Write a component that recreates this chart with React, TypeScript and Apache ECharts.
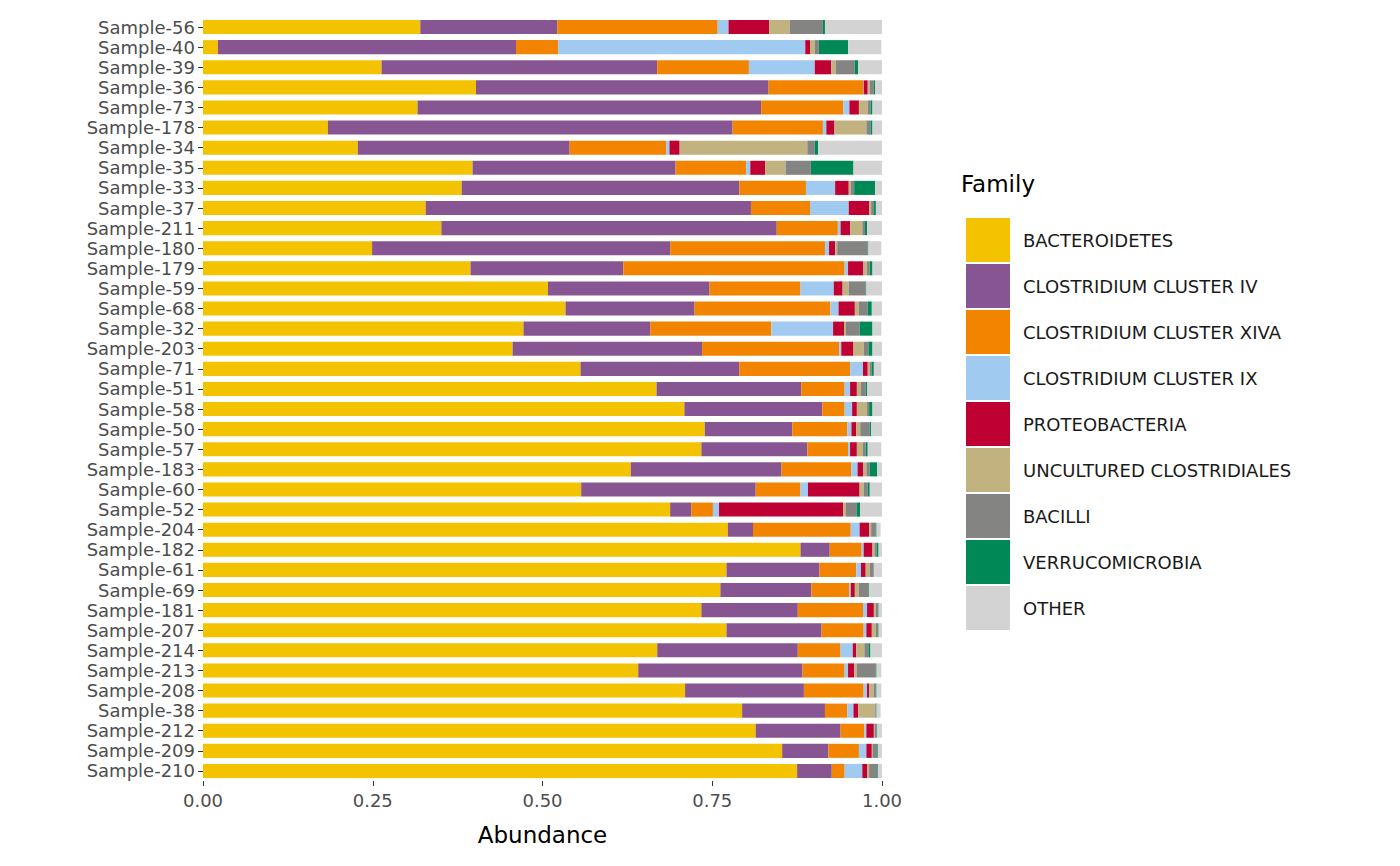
import { useEffect, useRef } from 'react';
import * as echarts from 'echarts';

const samples = ['Sample-56', 'Sample-40', 'Sample-39', 'Sample-36', 'Sample-73', 'Sample-178', 'Sample-34', 'Sample-35', 'Sample-33', 'Sample-37', 'Sample-211', 'Sample-180', 'Sample-179', 'Sample-59', 'Sample-68', 'Sample-32', 'Sample-203', 'Sample-71', 'Sample-51', 'Sample-58', 'Sample-50', 'Sample-57', 'Sample-183', 'Sample-60', 'Sample-52', 'Sample-204', 'Sample-182', 'Sample-61', 'Sample-69', 'Sample-181', 'Sample-207', 'Sample-214', 'Sample-213', 'Sample-208', 'Sample-38', 'Sample-212', 'Sample-209', 'Sample-210'];

const families = ['BACTEROIDETES', 'CLOSTRIDIUM CLUSTER IV', 'CLOSTRIDIUM CLUSTER XIVA', 'CLOSTRIDIUM CLUSTER IX', 'PROTEOBACTERIA', 'UNCULTURED CLOSTRIDIALES', 'BACILLI', 'VERRUCOMICROBIA', 'OTHER'];
const colors = ['#f3c300', '#875692', '#f38400', '#a1caf1', '#be0032', '#c2b280', '#848482', '#008856', '#d3d3d3'];

const bacteroidetes = [.320, .022, .263, .402, .316, .184, .228, .397, .381, .328, .351, .249, .394, .508, .534, .472, .456, .556, .668, .709, .739, .734, .630, .557, .688, .773, .880, .771, .762, .734, .771, .669, .641, .710, .794, .814, .853, .875];
const clusterIV = [.202, .439, .406, .431, .506, .596, .312, .299, .409, .479, .494, .439, .225, .238, .190, .187, .279, .234, .213, .203, .129, .156, .222, .257, .031, .037, .043, .137, .134, .142, .140, .207, .242, .175, .122, .125, .068, .051];
const clusterXIVA = [.236, .062, .135, .139, .121, .133, .142, .104, .098, .087, .090, .228, .326, .134, .200, .178, .202, .163, .064, .033, .081, .060, .103, .066, .032, .144, .047, .054, .056, .096, .062, .063, .062, .088, .033, .035, .045, .019];
const clusterIX = [.016, .364, .097, .001, .009, .005, .005, .006, .043, .057, .004, .006, .005, .049, .012, .091, .003, .019, .008, .011, .006, .003, .009, .011, .009, .013, .003, .007, .002, .006, .004, .018, .005, .005, .009, .003, .011, .026];
const proteobacteria = [.060, .007, .024, .006, .014, .012, .015, .022, .020, .030, .014, .009, .022, .013, .024, .016, .018, .007, .010, .007, .007, .010, .008, .076, .183, .014, .013, .007, .006, .010, .008, .005, .009, .003, .007, .011, .008, .007];
const uncultured = [.030, .007, .007, .003, .013, .047, .188, .030, .003, .003, .018, .003, .006, .009, .006, .003, .015, .003, .006, .015, .006, .009, .005, .006, .004, .003, .003, .006, .006, .003, .006, .012, .004, .007, .025, .001, .001, .003];
const bacilli = [.049, .006, .028, .006, .004, .006, .011, .037, .005, .004, .004, .045, .004, .025, .013, .020, .007, .003, .007, .003, .014, .004, .005, .006, .016, .007, .003, .006, .014, .003, .003, .006, .028, .003, .001, .003, .007, .012];
const verruco = [.003, .043, .005, .002, .003, .003, .005, .063, .031, .003, .003, .001, .004, .001, .006, .019, .006, .003, .002, .005, .002, .003, .011, .003, .005, .001, .003, .000, .001, .001, .001, .003, .001, .001, .001, .001, .001, .001];
const other = [.085, .049, .035, .011, .014, .016, .095, .043, .010, .009, .022, .019, .014, .024, .016, .013, .014, .011, .022, .014, .016, .020, .009, .018, .033, .006, .006, .012, .019, .005, .007, .018, .007, .007, .006, .007, .006, .006];

const seriesData = [bacteroidetes, clusterIV, clusterXIVA, clusterIX, proteobacteria, uncultured, bacilli, verruco, other];
const xTicks = ['0.00', '0.25', '0.50', '0.75', '1.00'];

const FONT = 'DejaVu Sans';

export default function App() {
  const divEl = useRef<HTMLDivElement>(null);

  useEffect(() => {
    const chart = echarts.init(divEl.current as HTMLDivElement, null, { renderer: 'svg' });
    chart.setOption({
      animation: false,
      textStyle: { fontFamily: FONT },
      grid: { left: 203, right: 518, top: 17, bottom: 85, containLabel: false },
      legend: {
        data: families,
        orient: 'vertical',
        left: 961,
        top: 213,
        itemWidth: 44,
        itemHeight: 44,
        itemGap: 2,
        icon: 'rect',
        selectedMode: false,
        textStyle: { fontSize: 18, color: '#1a1a1a', fontFamily: FONT, padding: [0, 0, 0, 8] },
      },
      graphic: [
        { type: 'text', left: 961, top: 172, style: { text: 'Family', fontSize: 23, fill: '#000', fontFamily: FONT } },
      ],
      xAxis: {
        type: 'value',
        min: 0,
        max: 1,
        interval: 0.25,
        name: 'Abundance',
        nameLocation: 'middle',
        nameGap: 42,
        nameTextStyle: { fontSize: 23, color: '#000', fontFamily: FONT },
        axisLine: { show: false },
        axisTick: { show: true, length: 5, lineStyle: { color: '#333' } },
        splitLine: { show: false },
        axisLabel: {
          fontSize: 18,
          color: '#4d4d4d',
          margin: 10,
          fontFamily: FONT,
          formatter: (v: number) => xTicks[Math.round(v / 0.25)] ?? '',
        },
      },
      yAxis: {
        type: 'category',
        data: samples,
        inverse: true,
        axisLine: { show: false },
        axisTick: { show: true, length: 5, interval: 0, alignWithLabel: true, lineStyle: { color: '#333' } },
        axisLabel: { interval: 0, fontSize: 18, color: '#4d4d4d', margin: 8, fontFamily: FONT },
      },
      series: families.map((name, i) => ({
        name,
        type: 'bar',
        stack: 'total',
        barCategoryGap: '30%',
        itemStyle: { color: colors[i] },
        data: seriesData[i],
      })),
    });
    return () => chart.dispose();
  }, []);

  return <div ref={divEl} style={{ position: 'absolute', left: 0, top: 0, width: 1400, height: 866, background: '#fff' }} />;
}
